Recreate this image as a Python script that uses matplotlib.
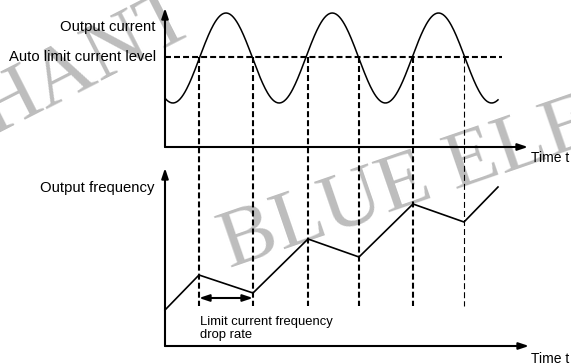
import numpy as np
import matplotlib.pyplot as plt

plt.rcParams['font.family'] = ['Liberation Sans', 'DejaVu Sans']
plt.rcParams['lines.scale_dashes'] = False

# instants where the output current crosses the auto limit level
cross_t = [3.4, 8.8, 14.3, 19.4, 24.8, 29.9]

# output current waveform (peaks of the oscillation, levels)
peak_t = [6.1, 16.85, 27.35]
i_low, i_high = 4.4, 13.4
i_limit = 9.0
t_end = 33.3

# output frequency: corners of the ramp up / drop down profile
freq_t = [0, 3.4, 8.8, 14.3, 19.4, 24.8, 29.9, 33.3]
freq = [3.6, 7.1, 5.3, 10.7, 8.9, 14.2, 12.4, 15.9]

# vertical offsets of the two time axes on the sheet
TOP_BASE = 21.7
BOT_BASE = 1.8

fig = plt.figure(figsize=(5.71, 3.64), dpi=100)
ax = fig.add_axes([0, 0, 1, 1])
ax.set_xlim(-16.5, 40.6)
ax.set_ylim(0, 36.4)
ax.axis('off')

# watermark text, kept behind the drawing
wm = dict(family=['Liberation Serif', 'DejaVu Serif'], fontsize=60, color='#bdbdbd',
          rotation_mode='anchor', ha='left', va='baseline', zorder=0,
          transform=fig.transFigure)
ax.text(230 / 571, 1 - 268 / 364, 'BLUE ELE', rotation=19, **wm)
ax.text(-8 / 571, 1 - 135 / 364, 'HANT', rotation=27, **wm)

arrow = dict(arrowstyle='-|>,head_length=0.6,head_width=0.2', lw=1.5, color='black',
             mutation_scale=10, shrinkA=0, shrinkB=0)

def axis_arrow(x0, y0, x1, y1):
    ax.annotate('', xy=(x1, y1), xytext=(x0, y0), arrowprops=arrow, zorder=3)

# current axes
axis_arrow(0, TOP_BASE, 0, TOP_BASE + 13.9)
axis_arrow(0, TOP_BASE, 36.3, TOP_BASE)
# frequency axes
axis_arrow(0, BOT_BASE, 0, BOT_BASE + 17.8)
axis_arrow(0, BOT_BASE, 36.4, BOT_BASE)

# output current
period = np.mean(np.diff(peak_t))
t = np.linspace(0, t_end, 400)
mid = (i_high + i_low) / 2
amp = (i_high - i_low) / 2
current = mid + amp * np.cos(2 * np.pi * (t - peak_t[0]) / period)
ax.plot(t, TOP_BASE + current, color='black', lw=1.1, zorder=3)

# auto limit current level
dash = (0, (4.3, 2.2))
ax.plot([0, 33.7], [TOP_BASE + i_limit] * 2, color='black', lw=1.5, linestyle=dash, zorder=3)

# drop lines from each crossing down to the frequency panel
for k, tc in enumerate(cross_t):
    lw = 0.8 if k == len(cross_t) - 1 else 1.5
    ax.plot([tc, tc], [TOP_BASE + i_limit, BOT_BASE + 4.0], color='black', lw=lw,
            linestyle=dash, zorder=3)

# output frequency
ax.plot(freq_t, [BOT_BASE + f for f in freq], color='black', lw=1.2, zorder=3)

# drop interval marker
ax.annotate('', xy=(cross_t[1], BOT_BASE + 4.8), xytext=(cross_t[0], BOT_BASE + 4.8),
            arrowprops=dict(arrowstyle='<|-|>,head_length=0.6,head_width=0.2', lw=1.5,
                            color='black', mutation_scale=10, shrinkA=0, shrinkB=0),
            zorder=3)

fs = 10.7
ax.text(-1.0, TOP_BASE + 12.0, 'Output current', ha='right', va='center', fontsize=fs, zorder=4)
ax.text(-0.9, TOP_BASE + i_limit, 'Auto limit current level', ha='right', va='center',
        fontsize=fs, zorder=4)
ax.text(-1.0, BOT_BASE + 15.8, 'Output frequency', ha='right', va='center', fontsize=fs, zorder=4)
ax.text(36.6, TOP_BASE - 1.1, 'Time t', ha='left', va='center', fontsize=10, zorder=4)
ax.text(36.6, BOT_BASE - 1.3, 'Time t', ha='left', va='center', fontsize=10, zorder=4)
ax.text(3.5, BOT_BASE + 3.0, 'Limit current frequency\ndrop rate', ha='left', va='top',
        fontsize=9.4, linespacing=1.1, zorder=4)

fig.savefig('out.png', dpi=100)
